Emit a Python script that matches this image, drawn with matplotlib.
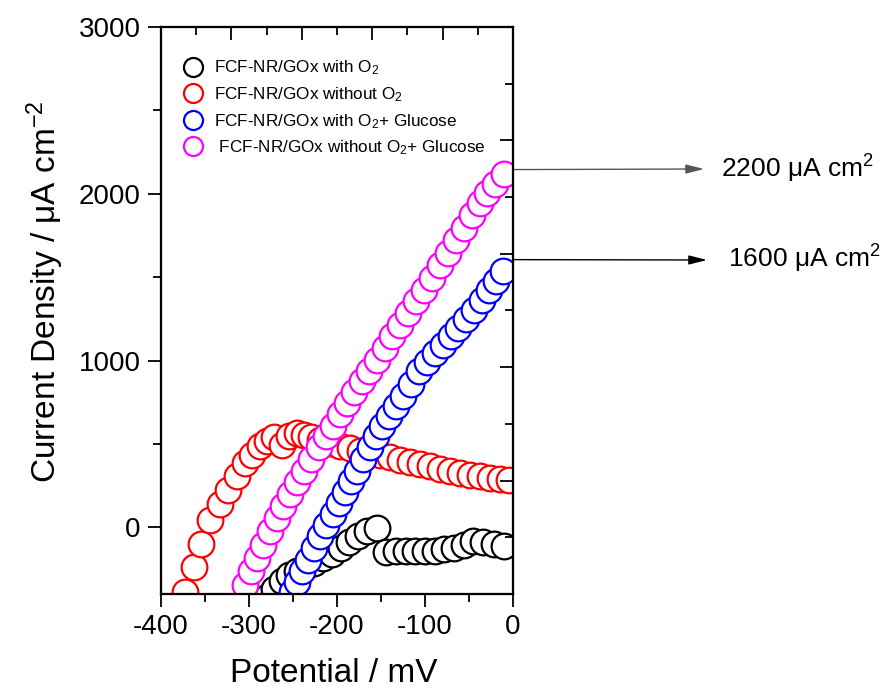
import matplotlib
matplotlib.use('Agg')
import matplotlib.pyplot as plt
from matplotlib.ticker import MultipleLocator

# 数据
black_x = [-280, -272, -263, -254, -245, -236, -226, -216, -206, -196, -186, -176, -166, -155,
           -144, -133, -122, -111, -100, -89, -78, -67, -56, -45, -34, -22, -10]
black_y = [-420, -373, -320, -285, -260, -238, -212, -185, -160, -125, -88, -52, -25, -2,
           -148, -142, -142, -142, -140, -140, -132, -122, -105, -85, -90, -100, -110]

red_x = [-373, -363, -354, -344, -333, -324, -314, -305, -297, -288, -280, -272, -263, -254,
         -246, -237, -229, -219, -208, -197, -185, -174, -162, -151, -140, -128, -117, -106,
         -94, -83, -72, -60, -49, -38, -26, -15, -5]
red_y = [-390, -240, -100, 45, 140, 225, 305, 385, 435, 485, 515, 540, 495, 545,
         565, 555, 540, 525, 505, 490, 475, 460, 448, 433, 420, 405, 392, 380,
         366, 352, 338, 325, 315, 305, 298, 290, 285]

blue_x = [-251, -245, -240, -233, -226, -219, -212, -205, -198, -191, -184, -177, -170, -163,
          -156, -149, -141, -133, -125, -116, -107, -98, -89, -80, -71, -62, -53, -44, -35,
          -27, -19, -11]
blue_y = [-390, -330, -265, -195, -125, -55, 15, 80, 145, 210, 275, 340, 410, 480,
          545, 605, 665, 725, 790, 860, 935, 990, 1045, 1095, 1145, 1195, 1250, 1305, 1365,
          1420, 1475, 1535]

magenta_x = [-305, -298, -291, -284, -276, -268, -261, -253, -245, -237, -229, -221, -213, -205,
             -197, -189, -181, -172, -164, -155, -146, -137, -128, -119, -110, -101, -92, -83,
             -74, -65, -56, -47, -38, -29, -20, -10]
magenta_y = [-345, -265, -185, -105, -25, 55, 130, 200, 270, 340, 410, 480, 545, 610,
             680, 745, 810, 875, 940, 1005, 1075, 1145, 1215, 1285, 1355, 1425, 1495, 1570,
             1645, 1720, 1795, 1870, 1945, 2005, 2060, 2120]

labels = ['FCF-NR/GOx with O$_2$',
          'FCF-NR/GOx without O$_2$',
          'FCF-NR/GOx with O$_2$+ Glucose',
          ' FCF-NR/GOx without O$_2$+ Glucose']
colors = ['#000000', '#ff0000', '#0000ff', '#ff00ff']

arrow_values = [2145, 1605]
arrow_texts = ['2200 \u03bcA cm$^2$', '1600 \u03bcA cm$^2$']

plt.rcParams['font.family'] = ['Liberation Sans', 'DejaVu Sans']
plt.rcParams['mathtext.fontset'] = 'custom'
plt.rcParams['mathtext.rm'] = 'Liberation Sans'
plt.rcParams['mathtext.it'] = 'Liberation Sans:italic'
plt.rcParams['mathtext.default'] = 'regular'
plt.rcParams['axes.unicode_minus'] = False

W, H = 885, 693
fig = plt.figure(figsize=(W / 100, H / 100), dpi=100)
ax = fig.add_axes([161 / W, 99 / H, 352 / W, 567 / H])

series = [(black_x, black_y), (red_x, red_y), (blue_x, blue_y), (magenta_x, magenta_y)]
for (xs, ys), c, lab in zip(series, colors, labels):
    ax.plot(xs, ys, linestyle='none', marker='o', ms=18.5, mew=1.6,
            mec=c, mfc='white', label=lab)

ax.set_xlim(-400, 0)
ax.set_ylim(-400, 3000)
ax.xaxis.set_major_locator(MultipleLocator(100))
ax.xaxis.set_minor_locator(MultipleLocator(50))
ax.yaxis.set_major_locator(MultipleLocator(1000))
ax.yaxis.set_minor_locator(MultipleLocator(500))
ax.tick_params(which='both', direction='out', width=1.3, labelsize=20,
               top=False, right=False, pad=5)
ax.tick_params(which='major', length=9.5)
ax.tick_params(which='minor', length=5.5)
for sp in ax.spines.values():
    sp.set_linewidth(1.5)

ax.set_xlabel('Potential / mV', fontsize=24)
ax.set_ylabel('Current Density / \u03bcA cm$^{-2}$', fontsize=24)
ax.xaxis.set_label_coords(0.491, -0.112)
ax.yaxis.set_label_coords(-0.27, 0.533)

ax.legend(loc='upper left', bbox_to_anchor=(0.068, 0.944), frameon=False,
          fontsize=12.3, markerscale=0.74, handlelength=0.95, handletextpad=0.75,
          labelspacing=0.46, borderpad=0, borderaxespad=0, numpoints=1)

# 上、右两侧的刻度（无标签，向内）
axt = ax.twiny()
axt.set_xlim(0, 5)
axt.xaxis.set_major_locator(MultipleLocator(1))
axt.xaxis.set_minor_locator(MultipleLocator(0.5))
axt.tick_params(axis='x', which='both', direction='in', width=1.3, labeltop=False)
axt.tick_params(axis='x', which='major', length=9.5)
axt.tick_params(axis='x', which='minor', length=5.5)
axt.tick_params(axis='y', left=False, labelleft=False)

axr = ax.twinx()
axr.set_ylim(0, 5)
axr.yaxis.set_major_locator(MultipleLocator(1))
axr.yaxis.set_minor_locator(MultipleLocator(0.5))
axr.tick_params(axis='y', which='both', direction='in', width=1.3, labelright=False)
axr.tick_params(axis='y', which='major', length=9.5)
axr.tick_params(axis='y', which='minor', length=5.5)
axr.tick_params(axis='x', bottom=False, labelbottom=False)
for a in (axt, axr):
    for sp in a.spines.values():
        sp.set_linewidth(1.5)

# 箭头与标注
heads = [(704, 169), (707, 260)]
text_pos = [(721, 178), (728, 268)]
arrow_cols = ['#555555', '#000000']
for val, (hx, hy), (tx, ty), txt, ac in zip(arrow_values, heads, text_pos, arrow_texts, arrow_cols):
    ax.annotate('', xy=(hx / W, 1 - hy / H), xycoords='figure fraction',
                xytext=(0, val), textcoords='data', annotation_clip=False,
                arrowprops=dict(arrowstyle='-|>,head_length=1.1,head_width=0.28',
                                color=ac, lw=1.0, shrinkA=0, shrinkB=0,
                                mutation_scale=10))
    fig.text(tx / W, 1 - ty / H, txt, fontsize=19, ha='left', va='baseline')

fig.savefig('out.png', dpi=100)
